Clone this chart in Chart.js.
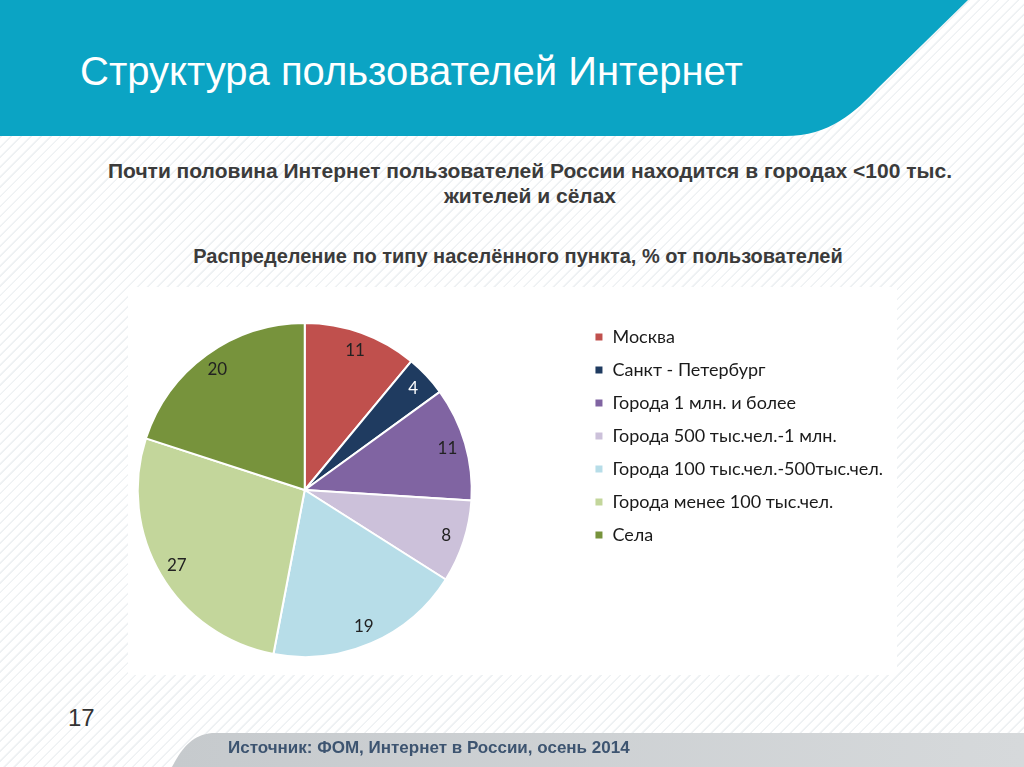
<!DOCTYPE html>
<html>
<head>
<meta charset="utf-8">
<script src="https://cdn.jsdelivr.net/npm/chart.js@4.4.1/dist/chart.umd.min.js"></script>
<style>
  html, body { margin: 0; padding: 0; }
  body {
    width: 1024px; height: 767px; position: relative; overflow: hidden;
    background-color: #f7f9fa;
    background-image: repeating-linear-gradient(135deg, #ffffff 0px, #ffffff 5px, #eef1f3 6px, #eef1f3 7px);
    font-family: "Liberation Sans", Arial, sans-serif;
  }
  #header { position: absolute; left: 0; top: 0; }
  #title {
    position: absolute; left: 80px; top: 49px; color: #fff;
    font-size: 40px; white-space: nowrap;
  }
  .sub {
    position: absolute; left: 30px; width: 1000px; text-align: center;
    color: #3b3b3b; font-weight: bold; font-size: 21px; line-height: 25px;
  }
  #panel { position: absolute; left: 128px; top: 287px; width: 769px; height: 388px; background: #fff; }
  #chartBox { position: absolute; left: 30px; top: 313px; width: 863px; height: 354px; }
  #page { position: absolute; left: 68px; top: 704px; font-size: 24px; color: #333; }
  #footer { position: absolute; left: 0; top: 0; }
  #source {
    position: absolute; left: 228px; top: 738px; font-size: 17px; font-weight: bold;
    color: #3d5470; white-space: nowrap;
  }
</style>
</head>
<body>
<svg id="header" width="1024" height="140">
  <path d="M0,0 L968,0 L878,88 C855,112 830,136 785,136 L0,136 Z" fill="#0ba4c4"/>
</svg>
<div id="title">Структура пользователей Интернет</div>
<div class="sub" style="top:158px">Почти половина Интернет пользователей России находится в городах &lt;100 тыс.<br>жителей и сёлах</div>
<div class="sub" style="top:244px; left:18px; font-size:20px">Распределение по типу населённого пункта, % от пользователей</div>
<div id="panel"></div>
<div id="chartBox"><canvas id="pie"></canvas></div>
<div id="page">17</div>
<svg id="footer" width="1024" height="767" style="pointer-events:none">
  <defs>
    <linearGradient id="band" x1="0" y1="0" x2="1" y2="0">
      <stop offset="0" stop-color="#c6cacd"/>
      <stop offset="1" stop-color="#d6d9db"/>
    </linearGradient>
  </defs>
  <path d="M172,767 C182,748 192,735 212,733 L1024,733 L1024,767 Z" fill="url(#band)"/>
</svg>
<div id="source">Источник: ФОМ, Интернет в России, осень 2014</div>

<script>
// settlement types, % of users
const categories = [
  'Москва',
  'Санкт - Петербург',
  'Города 1 млн. и более',
  'Города 500 тыс.чел.-1 млн.',
  'Города 100 тыс.чел.-500тыс.чел.',
  'Города менее 100 тыс.чел.',
  'Села'
]
const shares = [11, 4, 11, 8, 19, 27, 20]
const sliceColors = ['#c0504d', '#1f3b60', '#8064a2', '#ccc1da', '#b7dde8', '#c3d69b', '#77933c']
const labelColors = ['#222', '#fff', '#222', '#222', '#222', '#222', '#222']

Chart.defaults.font.family = 'Lato'

// numbers inside the slices
const sliceLabels = {
  id: 'sliceLabels',
  afterDatasetsDraw(chart) {
    const ctx = chart.ctx
    const meta = chart.getDatasetMeta(0)
    ctx.save()
    ctx.font = '17px Lato'
    ctx.textAlign = 'center'
    ctx.textBaseline = 'middle'
    meta.data.forEach((arc, i) => {
      const p = arc.getProps(['x', 'y', 'startAngle', 'endAngle', 'outerRadius'], true)
      const mid = (p.startAngle + p.endAngle) / 2
      const r = p.outerRadius * 0.89
      ctx.fillStyle = labelColors[i]
      ctx.fillText(String(shares[i]), p.x + Math.cos(mid) * r, p.y + Math.sin(mid) * r)
    })
    ctx.restore()
  }
}

new Chart(document.getElementById('pie').getContext('2d'), {
  type: 'pie',
  data: {
    labels: categories,
    datasets: [{
      data: shares,
      backgroundColor: sliceColors,
      borderColor: '#ffffff',
      borderWidth: 2
    }]
  },
  options: {
    responsive: true,
    maintainAspectRatio: false,
    animation: false,
    radius: 167,
    layout: { padding: 0 },
    plugins: {
      tooltip: { enabled: false },
      legend: {
        position: 'right',
        align: 'start',
        labels: {
          boxWidth: 9,
          boxHeight: 9,
          padding: 15,
          color: '#1a1a1a',
          font: { family: 'Lato', size: 18 }
        }
      }
    }
  },
  plugins: [sliceLabels]
})
</script>
</body>
</html>
